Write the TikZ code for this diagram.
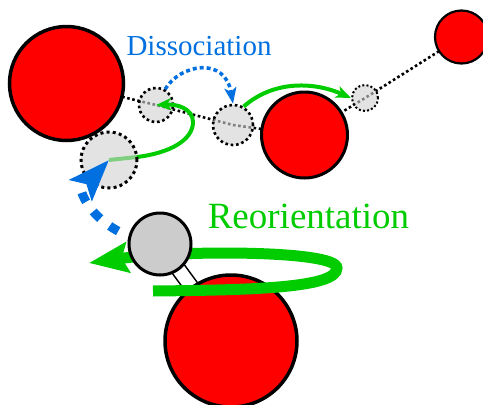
\documentclass[tikz,border=0pt]{standalone}
\usepackage{fontspec}
\setmainfont{Liberation Serif}
\usetikzlibrary{arrows.meta}

\definecolor{ballred}{RGB}{255,0,0}
\definecolor{hblue}{RGB}{0,112,224}
\definecolor{hgreen}{RGB}{0,204,0}
\definecolor{solidgray}{RGB}{204,204,204}
\definecolor{ghostgray}{RGB}{210,210,210}

\tikzset{
  redball/.style={circle, draw=black, fill=ballred, inner sep=0pt},
  hball/.style={circle, draw=black, fill=solidgray, line width=3pt, inner sep=0pt},
  ghost/.style={circle, draw=black, fill=ghostgray, fill opacity=0.61, draw opacity=1,
                dash pattern=on 3pt off 3.2pt, inner sep=0pt},
  dotline/.style={line width=2.6pt, dash pattern=on 2.6pt off 2.6pt},
  hop/.style={hgreen, line width=4pt, -{Stealth[length=15pt, width=12pt, inset=4pt]}},
  jump/.style={hblue, line width=3.5pt, dash pattern=on 4pt off 3pt,
               -{Stealth[length=16pt, width=12pt, inset=4pt]}},
  escape/.style={hblue, line width=9pt, dash pattern=on 10pt off 12pt,
               -{Stealth[length=41pt, width=30pt, inset=8pt]}},
  spin/.style={hgreen, line width=11pt, -{Stealth[length=39pt, width=30pt, inset=6pt]}},
  bond/.style={line width=1.6pt, double=white, double distance=13pt},
}

\begin{document}
\begin{tikzpicture}[x=1pt, y=-1pt]
\useasboundingbox (0,0) rectangle (483,405);

% atom positions
\coordinate (cA) at (66.5,83.5);
\coordinate (cB) at (304.5,135);
\coordinate (cC) at (461.5,37);
\coordinate (cD) at (231,341);
\coordinate (cS) at (160,244);
\coordinate (c1) at (109,160);
\coordinate (c2) at (156,105);
\coordinate (c3) at (233,125);
\coordinate (c4) at (365,98);
\coordinate (loopstart) at (153,291);
\coordinate (loopturn) at (337,268);
\coordinate (looptip) at (89,263);
\coordinate (escbend) at (81,190);

% hydrogen-bond paths
\draw[dotline] (cA) -- (c2) -- (c3) -- (cB);
\draw[dotline] (cB) -- (c4) -- (cC);

% water oxygens
\node[redball, line width=3.5pt, minimum size=114pt] (redA) at (cA) {};
\node[redball, line width=3pt, minimum size=86pt] (redB) at (cB) {};
\node[redball, line width=2.2pt, minimum size=53pt] (redC) at (cC) {};

% transient proton positions
\node[ghost, line width=2.6pt, minimum size=34pt, dash pattern=on 2.6pt off 2.8pt] (g2) at (c2) {};
\node[ghost, line width=2.6pt, minimum size=40pt, dash pattern=on 2.6pt off 2.8pt] (g3) at (c3) {};
\node[ghost, line width=2pt, minimum size=26pt, dash pattern=on 2pt off 2.2pt] (g4) at (c4) {};

% transfer along the wire
\draw[hop] (c1) -- ++(28,-3) .. controls +(33,-4) and +(0,18) .. ++(56,-35)
           .. controls +(0,-14) and +(20,-1) .. (g2.center);
\draw[hop] (g3.60) .. controls +(32,-28) and +(-34,-15) .. (g4.west);
\draw[jump] (g2.60) .. controls +(15,-25) and +(-8,-48) .. (g3.north);

\node[ghost, line width=3pt, minimum size=56pt] (g1) at (c1) {};

% rotating water molecule
\draw[bond] (cS) -- (cD);
\node[redball, line width=3.5pt, minimum size=132pt] (redD) at (cD) {};
\draw[spin] (loopstart) .. controls +(100,-1) and +(0,20) .. (loopturn)
            .. controls +(0,-18) and +(91,-13) .. (looptip);
\draw[escape] (cS) .. controls +(-40,-4) and +(7,25) .. (escbend) -- (g1.center);
\node[hball, minimum size=62pt] (grayS) at (cS) {};

% labels
\node[hblue, anchor=base, inner sep=0pt, font=\fontsize{29}{30}\selectfont] (dis) at (199,55) {Dissociation};
\node[hgreen, anchor=base, inner sep=0pt, font=\fontsize{37}{38}\selectfont] (reo) at (308.5,228) {Reorientation};
\end{tikzpicture}
\end{document}
